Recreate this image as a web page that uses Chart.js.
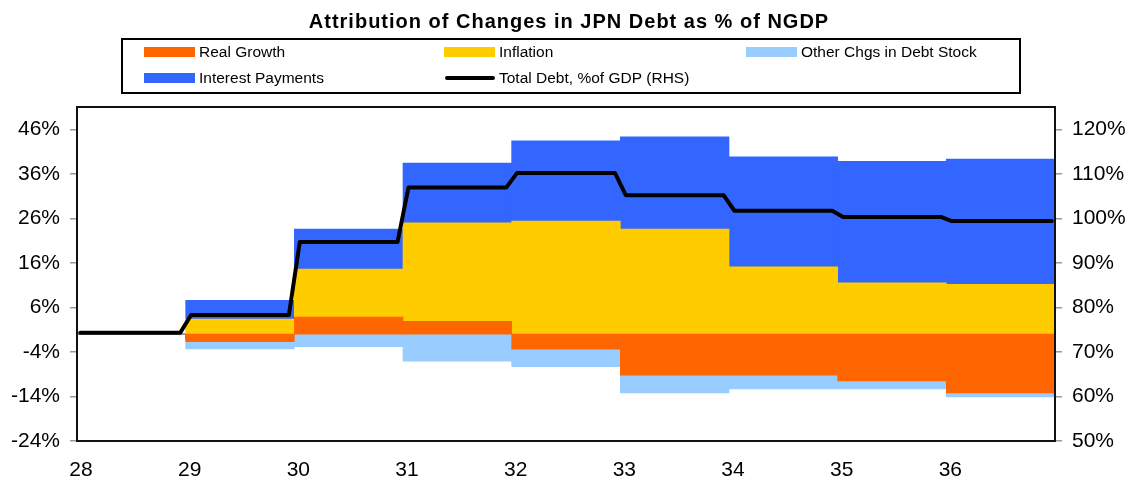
<!DOCTYPE html>
<html>
<head>
<meta charset="utf-8">
<script src="https://cdn.jsdelivr.net/npm/chart.js@4.4.1/dist/chart.umd.min.js"></script>
<style>
  html, body { margin: 0; padding: 0; background: #fff; }
  canvas { display: block; }
</style>
</head>
<body>
<canvas id="debtChart" width="1131" height="482"></canvas>
<script>
// Attribution of changes in JPN debt (% of NGDP)
const chartTitle = 'Attribution of Changes in JPN Debt as % of NGDP';

const years = [29, 30, 31, 32, 33, 34, 35, 36];
const realGrowth = [-1.7, 3.8, 2.9, -3.4, -9.2, -9.2, -10.5, -13.2];
const inflation = [3.4, 10.8, 22.1, 25.4, 23.6, 15.1, 11.5, 11.2];
const otherChgs = [-1.6, -2.8, -6.1, -3.9, -4.0, -3.1, -1.8, -0.9];
const interestPay = [4.2, 9.0, 13.4, 18.0, 20.7, 24.7, 27.3, 28.1];

// total debt line (RHS), x positions where the line bends
const debtX = [28.03, 28.95, 29.05, 29.95, 30.05, 30.95, 31.05, 31.95, 32.05,
               32.95, 33.05, 33.95, 34.05, 34.95, 35.05, 35.95, 36.05, 36.97];
const debtY = [74.3, 74.3, 78.3, 78.3, 94.7, 94.7, 106.9, 106.9, 110.2,
               110.2, 105.2, 105.2, 101.7, 101.7, 100.3, 100.3, 99.4, 99.4];

const xTicks = [28, 29, 30, 31, 32, 33, 34, 35, 36];
const leftTicks = [-24, -14, -4, 6, 16, 26, 36, 46];
const rightTicks = [50, 60, 70, 80, 90, 100, 110, 120];

const FONT = '"Liberation Sans", Arial, Helvetica, sans-serif';
Chart.defaults.font.family = FONT;

function barSet(label, values, color) {
    return {
        label: label,
        data: years.map((yr, i) => ({ x: yr + 0.5, y: values[i] })),
        backgroundColor: color,
        borderWidth: 0,
        barPercentage: 1,
        categoryPercentage: 1,
        xAxisID: 'x',
        yAxisID: 'y',
        order: 1
    };
}

// title, boxed legend and plot frame
const headerPlugin = {
    id: 'header',
    afterDraw(chart) {
        const ctx = chart.ctx;
        const area = chart.chartArea;
        ctx.save();

        ctx.fillStyle = '#000';
        ctx.font = 'bold 20px ' + FONT;
        ctx.letterSpacing = '1px';
        ctx.textAlign = 'center';
        ctx.textBaseline = 'alphabetic';
        ctx.fillText(chartTitle, 569, 28);
        ctx.letterSpacing = '0px';

        ctx.lineWidth = 2;
        ctx.strokeStyle = '#000';
        ctx.strokeRect(122, 39, 898, 54);

        const cols = [144, 444, 746];
        const rows = [52, 78];
        ctx.font = '15.5px ' + FONT;
        ctx.textAlign = 'left';
        ctx.textBaseline = 'middle';
        chart.data.datasets.forEach((ds, i) => {
            const x = cols[i % 3];
            const y = rows[Math.floor(i / 3)];
            if (ds.type === 'line') {
                ctx.strokeStyle = ds.borderColor;
                ctx.lineWidth = 4;
                ctx.lineCap = 'round';
                ctx.beginPath();
                ctx.moveTo(x + 3, y);
                ctx.lineTo(x + 49, y);
                ctx.stroke();
            } else {
                ctx.fillStyle = ds.backgroundColor;
                ctx.fillRect(x, y - 5, 51, 10);
            }
            ctx.fillStyle = '#000';
            ctx.fillText(ds.label, x + 55, y + 1);
        });

        ctx.lineWidth = 2;
        ctx.strokeStyle = '#111';
        ctx.strokeRect(area.left, area.top, area.right - area.left, area.bottom - area.top);
        ctx.restore();
    }
};

const config = {
    type: 'bar',
    data: {
        datasets: [
            barSet('Real Growth', realGrowth, '#FF6600'),
            barSet('Inflation', inflation, '#FFCC00'),
            barSet('Other Chgs in Debt Stock', otherChgs, '#99CCFF'),
            barSet('Interest Payments', interestPay, '#3366FF'),
            {
                type: 'line',
                label: 'Total Debt, %of GDP (RHS)',
                data: debtX.map((x, i) => ({ x: x, y: debtY[i] })),
                xAxisID: 'x',
                yAxisID: 'y1',
                borderColor: '#000',
                backgroundColor: '#000',
                borderWidth: 4,
                borderCapStyle: 'round',
                borderJoinStyle: 'round',
                pointRadius: 0,
                tension: 0,
                fill: false,
                order: 0
            }
        ]
    },
    options: {
        responsive: false,
        animation: false,
        layout: { padding: { top: 107, left: 0, right: 0, bottom: 0 } },
        plugins: {
            legend: { display: false },
            title: { display: false },
            tooltip: { enabled: false }
        },
        scales: {
            x: {
                type: 'linear',
                position: 'bottom',
                min: 28,
                max: 37,
                offset: false,
                stacked: true,
                afterBuildTicks: s => { s.ticks = xTicks.map(v => ({ value: v })); },
                afterFit: s => { s.height = 41; },
                grid: { display: false, drawTicks: false, offset: false },
                border: { display: false },
                ticks: { color: '#000', font: { size: 21 }, padding: 17, labelOffset: 4, maxRotation: 0 }
            },
            x0: {
                type: 'linear',
                position: { y: 0 },
                min: 28,
                max: 37,
                offset: false,
                z: 1,
                afterBuildTicks: s => { s.ticks = xTicks.map(v => ({ value: v })); },
                ticks: { display: false },
                grid: { display: true, offset: false, drawOnChartArea: false, drawTicks: true, tickLength: 5, color: '#999', lineWidth: 1.5 },
                border: { display: true, color: '#999', width: 2 }
            },
            y: {
                position: 'left',
                min: -24,
                max: 51,
                stacked: true,
                afterBuildTicks: s => { s.ticks = leftTicks.map(v => ({ value: v })); },
                afterFit: s => { s.width = 77; },
                grid: { drawOnChartArea: false, tickLength: 7, color: '#999', lineWidth: 1.5 },
                border: { display: false },
                ticks: { color: '#000', font: { size: 21 }, padding: 10, callback: v => v + '%' }
            },
            y1: {
                position: 'right',
                min: 50,
                max: 125,
                afterBuildTicks: s => { s.ticks = rightTicks.map(v => ({ value: v })); },
                afterFit: s => { s.width = 76; },
                grid: { drawOnChartArea: false, tickLength: 7, color: '#999', lineWidth: 1.5 },
                border: { display: false },
                ticks: { color: '#000', font: { size: 21 }, padding: 10, callback: v => v + '%' }
            }
        }
    },
    plugins: [headerPlugin]
};

const debtChart = new Chart(document.getElementById('debtChart'), config);
</script>
</body>
</html>
